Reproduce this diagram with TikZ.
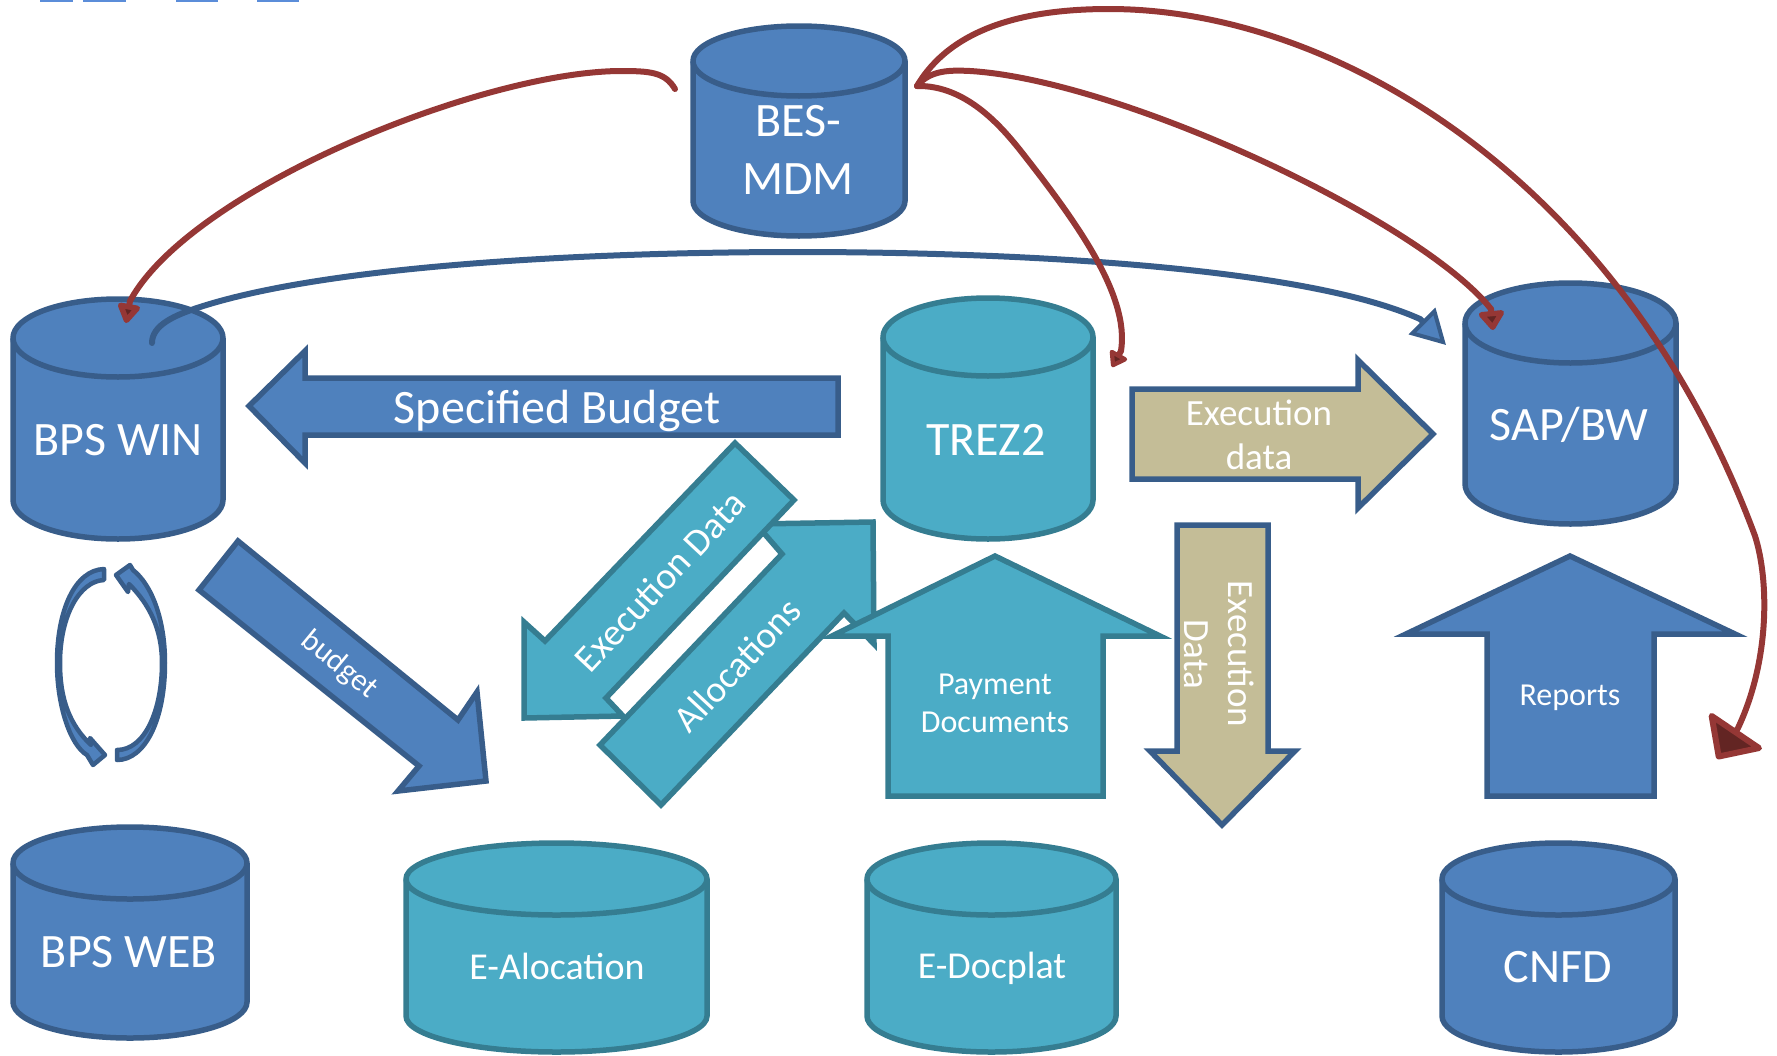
\documentclass[tikz,border=0pt]{standalone}
\usepackage{fontspec}
\setmainfont{Carlito}
\usetikzlibrary{arrows.meta}
\definecolor{bluefill}{HTML}{4F81BD}
\definecolor{bluedge}{HTML}{385D8A}
\definecolor{tealfill}{HTML}{4BACC6}
\definecolor{tealedge}{HTML}{357D91}
\definecolor{tanfill}{HTML}{C4BD97}
\definecolor{redline}{HTML}{953735}
\definecolor{reddark}{HTML}{632523}
\definecolor{markblue}{HTML}{5B8DD9}
\tikzset{
  bluebox/.style={fill=bluefill,draw=bluedge,line width=5.5pt,line join=miter},
  tealbox/.style={fill=tealfill,draw=tealedge,line width=5.5pt,line join=miter},
  tanbox/.style={fill=tanfill,draw=bluedge,line width=5.5pt,line join=miter},
  lbl/.style={text=white,inner sep=0pt,align=center},
  redlink/.style={draw=redline,line width=6pt,line cap=round},
  bluelink/.style={draw=bluedge,line width=6pt,line cap=round},
}
\newcommand{\fs}[1]{\fontsize{#1}{#1}\selectfont}
% style, x0, x1, ytop, ybottom, ry
\newcommand{\dbcyl}[6]{%
  \pgfmathsetmacro{\rx}{(#3-#2)/2}%
  \draw[#1] (#2,#4+#6) -- (#2,#5-#6)
     arc[start angle=180,end angle=360,x radius=\rx pt,y radius=#6 pt]
     -- (#3,#4+#6)
     arc[start angle=0,end angle=180,x radius=\rx pt,y radius=#6 pt] -- cycle;
  \draw[#1,fill=none] (#2,#4+#6)
     arc[start angle=180,end angle=360,x radius=\rx pt,y radius=#6 pt];
}
\begin{document}
\begin{tikzpicture}[x=1pt,y=-1pt]
\useasboundingbox (0,0) rectangle (1777,1055);
\clip (0,0) rectangle (1777,1055);
% marks on the top edge
\foreach \a/\b in {40/73,83/126,176/218,257/299}
  \fill[markblue] (\a,0) rectangle (\b,2);
% cylinders
\dbcyl{bluebox}{693}{905}{26}{236}{35}
\dbcyl{bluebox}{13}{223}{299}{539}{39}
\dbcyl{tealbox}{883}{1093}{298}{539}{39}
\dbcyl{bluebox}{1465}{1676}{283}{524}{40}
\dbcyl{bluebox}{13}{247}{827}{1038}{36}
\dbcyl{tealbox}{406}{707}{843}{1052}{36}
\dbcyl{tealbox}{867}{1116}{843}{1052}{36}
\dbcyl{bluebox}{1442}{1675}{843}{1052}{36}
\node[lbl,font=\fs{48}] (besmdm) at (798,150) {BES-\\[10pt]MDM};
\node[lbl,font=\fs{48}] (bpswin) at (118,440) {BPS WIN};
\node[lbl,font=\fs{48}] (trez) at (986,440) {TREZ2};
\node[lbl,font=\fs{48}] (sapbw) at (1569,425) {SAP/BW};
\node[lbl,font=\fs{48}] (bpsweb) at (129,952) {BPS WEB};
\node[lbl,font=\fs{38}] (ealoc) at (557,966) {E-Alocation};
\node[lbl,font=\fs{38}] (edoc) at (992,968) {E-Docplat};
\node[lbl,font=\fs{48}] (cnfd) at (1558,967) {CNFD};
% block arrows
\draw[bluebox] (249,406) -- (305,351) -- (305,378) -- (838,378) -- (838,435) -- (305,435) -- (305,463) -- cycle;
\node[lbl,font=\fs{48}] (specified) at (557,411) {Specified Budget};
\draw[tanbox] (1132,389) -- (1358,389) -- (1358,360) -- (1433,434) -- (1358,508) -- (1358,479) -- (1132,479) -- cycle;
\node[lbl,font=\fs{37}] (execdata) at (1259,435) {Execution\\[7pt]data};
\draw[bluebox] (238,541) -- (458,720) -- (477,692) -- (486,781) -- (398,791) -- (419,766) -- (199,590) -- cycle;
\node[lbl,font=\fs{31},rotate=-39.5] (budget) at (339,665) {budget};
\draw[tealbox] (756,524) -- (873,522) -- (874,644) -- (844,613) -- (661,805) -- (600,745) -- (782,554) -- cycle;
\node[lbl,font=\fs{37.5},rotate=47] (alloc) at (737,665) {Allocations};
\draw[tealbox] (735,443) -- (794,500) -- (606,698) -- (623,716) -- (524,718) -- (524,622) -- (545,641) -- cycle;
\node[lbl,font=\fs{38},rotate=47] (execdiag) at (660,581) {Execution Data};
\draw[tealbox] (995,556) -- (1160,636) -- (1103,636) -- (1103,796) -- (888,796) -- (888,636) -- (832,636) -- cycle;
\node[lbl,font=\fs{32}] (payment) at (995,703.5) {Payment\\[5.5pt]Documents};
\draw[bluebox] (1570,556) -- (1735,634) -- (1654,634) -- (1654,796) -- (1487,796) -- (1487,634) -- (1406,634) -- cycle;
\node[lbl,font=\fs{32}] (reports) at (1570,698) {Reports};
\draw[tanbox] (1177,525) -- (1268,525) -- (1268,751) -- (1295,751) -- (1222,825) -- (1150,751) -- (1177,751) -- cycle;
\node[lbl,font=\fs{37},rotate=-90] (execvert) at (1219,654) {Execution\\[7pt]Data};
% refresh loop
\draw[bluebox,line width=4.5pt,line join=round] (104,569) .. controls (75,570) and (57,610) .. (57,663) .. controls (57,705) and (70,745) .. (87,755) -- (93,765) -- (105,755) -- (90,738) -- (91,745) .. controls (70,725) and (60,700) .. (60,663) .. controls (60,615) and (80,581) .. (104,580) -- cycle;
\draw[bluebox,line width=4.5pt,line join=round] (117,760) .. controls (145,760) and (165,720) .. (165,663) .. controls (165,620) and (152,585) .. (133,570) -- (130,565) -- (116,575) -- (128,592) -- (129,584) .. controls (150,605) and (162,630) .. (162,663) .. controls (162,710) and (145,750) .. (117,750) -- cycle;
% connector ends
\coordinate (besleft) at (675,89);
\coordinate (besright) at (917,86);
\coordinate (winhead) at (126,323);
\coordinate (trezhead) at (1112,367);
\coordinate (saphead) at (1493,330);
\coordinate (freehead) at (1717,759);
\coordinate (winport) at (152,343);
\coordinate (sapblue) at (1446,345);
% connectors
\draw[bluelink,-{Triangle[length=34pt,width=37pt,fill=bluefill,line width=4pt]}] (winport) .. controls (152,325) and (175,315) .. (200,307) .. controls (340,262) and (620,252) .. (798,252) .. controls (1000,252) and (1300,265) .. (1420,319) -- (sapblue);
\draw[redlink,-{Triangle[length=22pt,width=25pt,fill=reddark,round]}] (besleft) .. controls (665,72) and (650,71) .. (620,71) .. controls (480,72) and (190,190) .. (130,301) -- (winhead);
\draw[redlink,-{Triangle[length=17pt,width=22pt,fill=reddark,round]}] (besright) .. controls (965,85) and (1000,125) .. (1020,150) .. controls (1075,220) and (1130,295) .. (1121,351) -- (trezhead);
\draw[redlink,-{Triangle[length=21pt,width=29pt,fill=reddark,round]}] (besright) .. controls (930,70) and (950,70) .. (970,71) .. controls (1120,80) and (1420,220) .. (1491,309) -- (saphead);
\draw[redlink,-{Triangle[length=37pt,width=70pt,fill=reddark,round]}] (besright) .. controls (950,30) and (1020,9) .. (1109,9) .. controls (1340,9) and (1625,185) .. (1755,536) .. controls (1769,580) and (1770,660) .. (1738,728) -- (freehead);
\end{tikzpicture}
\end{document}
